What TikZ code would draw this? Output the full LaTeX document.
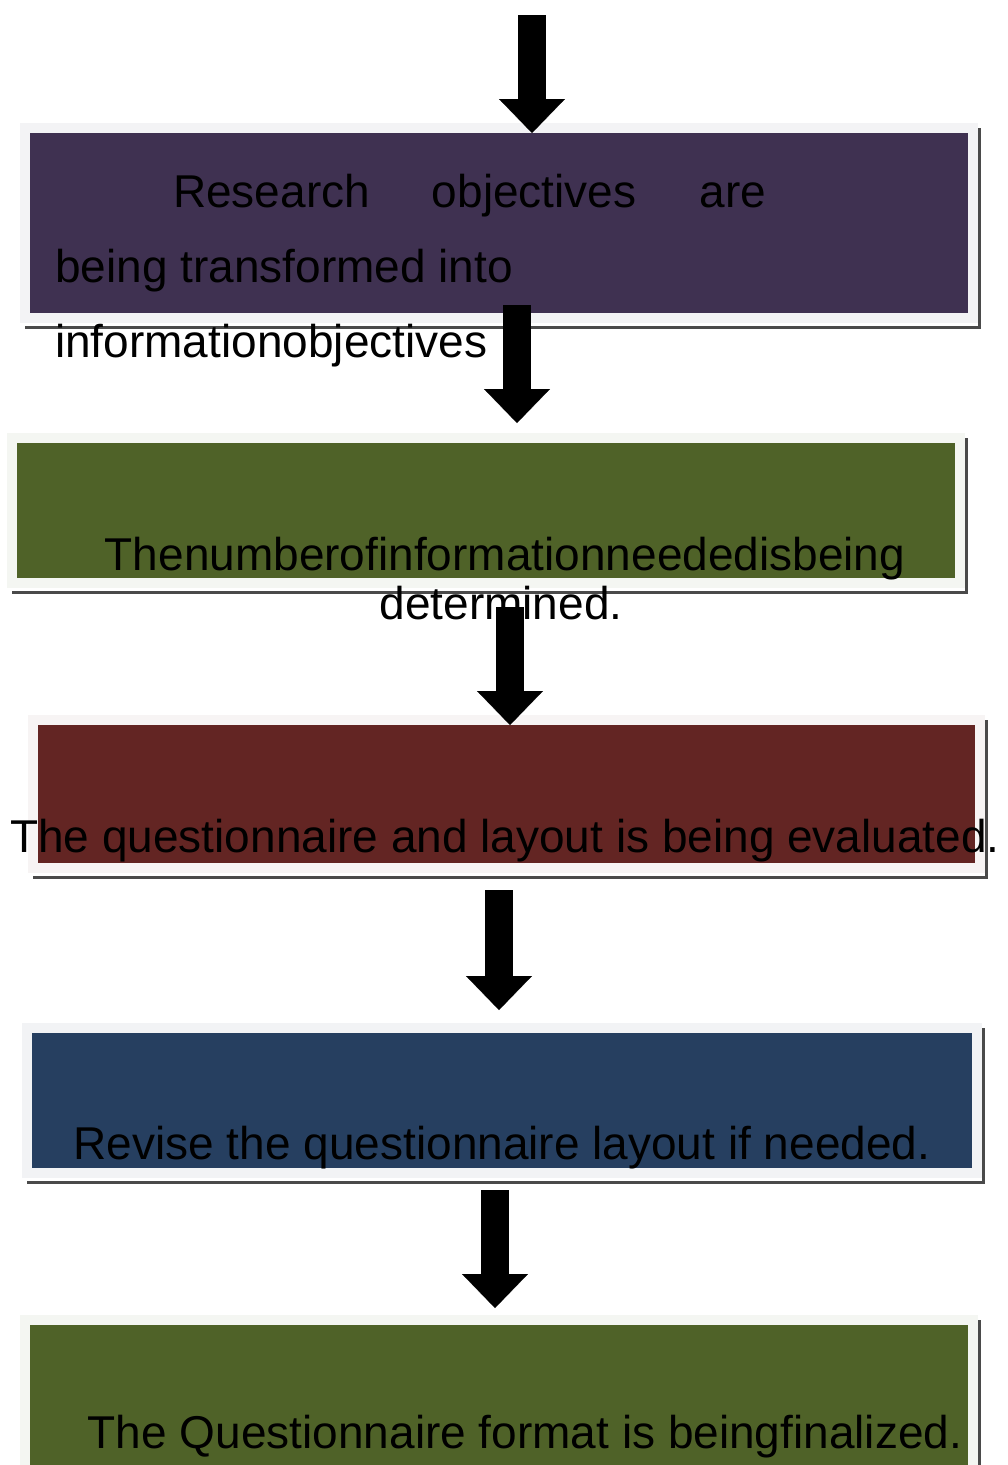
\documentclass[tikz,border=0pt]{standalone}
\usepackage{fontspec}
\setmainfont{Liberation Sans}
\usetikzlibrary{arrows.meta,positioning}
\definecolor{PurpleClr}{HTML}{3F3151}
\definecolor{GreenClr}{HTML}{4F6228}
\definecolor{RedClr}{HTML}{632523}
\definecolor{BlueClr}{HTML}{263F60}
\definecolor{EdgeClr}{HTML}{4A4A4A}

\begin{document}
\begin{tikzpicture}[x=1pt,y=-1pt,
  stepbox/.style={rectangle,inner sep=0pt,outer sep=0pt,line width=10pt},
  steptext/.style={anchor=base,inner sep=0pt,font=\fontsize{46}{55}\selectfont},
  flowarrow/.style={line width=28pt,-{Triangle[width=66pt,length=34pt,line width=0.1pt]}},
  edgeline/.style={draw=EdgeClr,line width=3pt}]

\useasboundingbox (0,0) rectangle (1008,1465);

\node[stepbox,fill=PurpleClr,draw=PurpleClr!6,minimum width=948pt,minimum height=190pt] (b1) at (499,223) {};
\node[stepbox,fill=GreenClr,draw=GreenClr!6,minimum width=948pt,minimum height=145pt] (b2) at (486,510.5) {};
\node[stepbox,fill=RedClr,draw=RedClr!5,minimum width=947pt,minimum height=148pt] (b3) at (506.5,794) {};
\node[stepbox,fill=BlueClr,draw=BlueClr!6,minimum width=950pt,minimum height=145pt] (b4) at (502,1100.5) {};
\node[stepbox,fill=GreenClr,draw=GreenClr!6,minimum width=948pt,minimum height=155pt] (b5) at (499,1397.5) {};

\foreach \b in {b1,b2,b3,b4}
  \draw[edgeline] ([shift={(6,0)}]\b.north east) |- ([shift={(0,9)}]\b.south west);
\draw[edgeline] ([shift={(6,0)}]b5.north east) -- ([shift={(6,0)}]b5.south east);

\node[steptext,anchor=base west] (t1a) at (173,207) {Research\hspace{62pt}objectives\hspace{63pt}are};
\node[steptext,anchor=base west] (t1b) at (55,282) {being transformed into};
\node[steptext,anchor=base west] (t1c) at (55,357) {informationobjectives};
\node[steptext] (t2a) at (505,570) {Thenumberofinformationneededisbeing};
\node[steptext] (t2b) at (501,619) {determined.};
\node[steptext] (t3) at (505,852) {The questionnaire and layout is being evaluated.};
\node[steptext] (t4) at (502,1159) {Revise the questionnaire layout if needed.};
\node[steptext] (t5) at (525,1448) {The Questionnaire format is beingfinalized.};

\coordinate (top) at (532,15);
\draw[flowarrow] (top) -- ([shift={(33,5)}]b1.north);
\draw[flowarrow] ([shift={(18,-13)}]b1.south) -- ([shift={(31,-15)}]b2.north);
\draw[flowarrow] ([shift={(24,24)}]b2.south) -- ([shift={(3.5,5)}]b3.north);
\draw[flowarrow] ([shift={(-7.5,22)}]b3.south) -- ([shift={(-3,-18)}]b4.north);
\draw[flowarrow] ([shift={(-7,17)}]b4.south) -- ([shift={(-4,-12)}]b5.north);

\end{tikzpicture}
\end{document}
